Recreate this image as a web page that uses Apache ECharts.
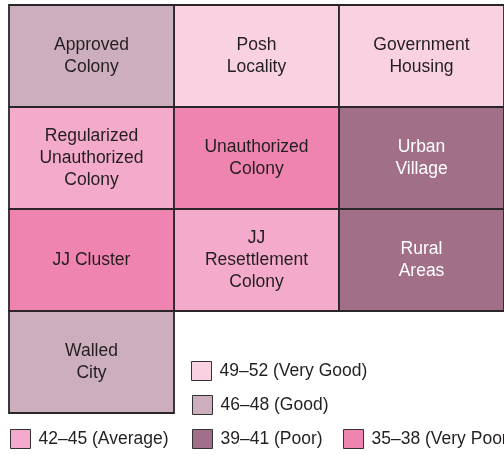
<!DOCTYPE html>
<html>
<head>
<meta charset="utf-8">
<script src="https://cdn.jsdelivr.net/npm/echarts@6/dist/echarts.min.js"></script>
<style>
  html, body { margin: 0; padding: 0; background: #fff; }
  #chart { width: 504px; height: 455px; }
</style>
</head>
<body>
<div id="chart"></div>
<script>
// Residential area types arranged on a 3 x 4 grid, shaded by score class
const gridCols = ['c1', 'c2', 'c3'];
const gridRows = ['r1', 'r2', 'r3', 'r4'];

const classNames = ['49–52 (Very Good)', '46–48 (Good)', '42–45 (Average)', '39–41 (Poor)', '35–38 (Very Poor)'];
const classColors = ['#f9d1e3', '#ccaebe', '#f4aacb', '#a17088', '#f084b0'];
const classTextColors = ['#231f20', '#231f20', '#231f20', '#ffffff', '#231f20'];

const areaNames = [
  'Approved\nColony', 'Posh\nLocality', 'Government\nHousing',
  'Regularized\nUnauthorized\nColony', 'Unauthorized\nColony', 'Urban\nVillage',
  'JJ Cluster', 'JJ\nResettlement\nColony', 'Rural\nAreas',
  'Walled\nCity'
];
const areaCol = [0, 1, 2, 0, 1, 2, 0, 1, 2, 0];
const areaRow = [0, 0, 0, 1, 1, 1, 2, 2, 2, 3];
const areaClass = [1, 0, 0, 2, 4, 3, 4, 2, 3, 1];

const FONT = '"Liberation Sans", Arial, Helvetica, sans-serif';

function buildSeries(ci) {
  const items = [];
  areaNames.forEach(function (n, i) {
    if (areaClass[i] === ci) items.push({ name: n, value: [areaCol[i], areaRow[i]] });
  });
  return {
    type: 'custom',
    name: classNames[ci],
    itemStyle: { color: classColors[ci] },
    data: items,
    renderItem: function (params, api) {
      const c = api.coord([api.value(0), api.value(1)]);
      const s = api.size([1, 1]);
      return {
        type: 'rect',
        shape: { x: c[0] - s[0] / 2, y: c[1] - s[1] / 2, width: s[0], height: s[1] },
        style: { fill: api.visual('color'), stroke: '#2a2628', lineWidth: 1.8 },
        textContent: {
          style: {
            text: items[params.dataIndex].name,
            fill: classTextColors[ci],
            fontSize: 17.5,
            fontFamily: FONT,
            lineHeight: 22,
            align: 'center',
            verticalAlign: 'middle'
          }
        },
        textConfig: { position: 'inside' }
      };
    }
  };
}

const legendBase = {
  orient: 'horizontal',
  selectedMode: false,
  icon: 'rect',
  itemWidth: 20,
  itemHeight: 19,
  width: 400,
  itemStyle: { borderColor: '#333', borderWidth: 1 },
  textStyle: { color: '#231f20', fontSize: 17.5, fontFamily: FONT, padding: [0, 0, 0, 3] },
  padding: 0
};

function legendAt(x, y, ci) {
  return Object.assign({}, legendBase, { left: x, top: y, data: [classNames[ci]] });
}

const chart = echarts.init(document.getElementById('chart'), null, { renderer: 'canvas' });
chart.setOption({
  animation: false,
  backgroundColor: '#ffffff',
  grid: { left: 9, top: 5, width: 498, height: 408 },
  xAxis: { type: 'category', data: gridCols, show: false },
  yAxis: { type: 'category', data: gridRows, inverse: true, show: false },
  legend: [
    legendAt(191, 361, 0),
    legendAt(192, 395, 1),
    legendAt(10, 429, 2),
    legendAt(192, 429, 3),
    legendAt(343, 429, 4)
  ],
  series: classNames.map(function (_, i) { return buildSeries(i); })
});
</script>
</body>
</html>
